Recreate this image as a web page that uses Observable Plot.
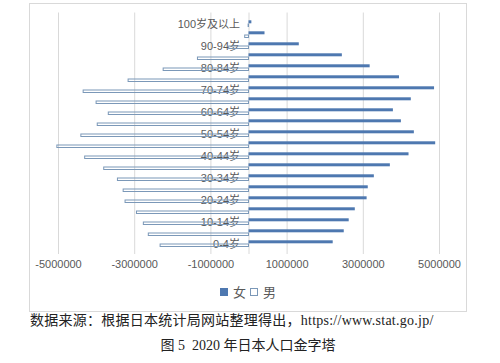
<!DOCTYPE html>
<html><head><meta charset="utf-8">
<script src="https://cdn.jsdelivr.net/npm/d3@7"></script>
<script src="https://cdn.jsdelivr.net/npm/@observablehq/plot@0.6"></script>
<style>
body{margin:0;background:#fff;width:500px;height:363px;overflow:hidden;font-family:"Liberation Sans",Arial,"Noto Sans CJK SC",sans-serif}
#wrap{position:relative;width:500px;height:363px}
#box{position:absolute;left:29px;top:3px;width:438px;height:309px;border:1px solid #d9d9d9;box-sizing:border-box}
#chart{position:absolute;left:0;top:0}
#legend{position:absolute;left:0;width:496px;top:284px;text-align:center;font-size:13px;color:#595959;font-family:"Noto Sans CJK SC",sans-serif;line-height:16px}
#legend .sw{display:inline-block;width:8px;height:8px;vertical-align:middle;margin:0 5px 2px 0;box-sizing:border-box}
#src{position:absolute;left:30px;top:311px;font-size:14px;color:#222;font-family:"Liberation Serif","Noto Sans CJK SC",serif;white-space:nowrap;line-height:20px;letter-spacing:0.25px}
#title{position:absolute;left:0;width:496px;top:336px;text-align:center;font-size:14px;color:#222;font-family:"Liberation Serif","Noto Sans CJK SC",serif;white-space:nowrap;line-height:20px}
</style>
</head><body>
<div id="wrap">
<div id="box"></div>
<div id="chart"></div>
<div id="legend"><span class="sw" style="background:#4e78b0"></span>女<span class="sw" style="border:1px solid #7b98b8;background:#fff;margin-left:4px"></span>男</div>
<div id="src">数据来源：根据日本统计局网站整理得出，https://www.stat.go.jp/</div>
<div id="title">图 5&nbsp; 2020 年日本人口金字塔</div>
</div>
<script>
const ages = ["0-4岁","5-9岁","10-14岁","15-19岁","20-24岁","25-29岁","30-34岁","35-39岁","40-44岁","45-49岁","50-54岁","55-59岁","60-64岁","65-69岁","70-74岁","75-79岁","80-84岁","85-89岁","90-94岁","95-99岁","100岁及以上"];
const male = [2320000,2630000,2760000,2940000,3240000,3290000,3440000,3800000,4300000,5030000,4400000,3970000,3680000,4000000,4340000,3160000,2240000,1340000,520000,100000,10000];
const female = [2210000,2500000,2630000,2790000,3100000,3130000,3290000,3710000,4200000,4900000,4340000,4000000,3790000,4260000,4870000,3950000,3180000,2450000,1320000,420000,75000];
const xTicks = [-5000000,-3000000,-1000000,1000000,3000000,5000000];
const shownLabels = ["0-4岁","10-14岁","20-24岁","30-34岁","40-44岁","50-54岁","60-64岁","70-74岁","80-84岁","90-94岁","100岁及以上"];

const rows = ages.map((a,i)=>({age:a, male:male[i], female:female[i]}));
const order = ages.slice().reverse();

const chart = Plot.plot({
  width:500, height:280,
  marginLeft:58, marginRight:61, marginTop:12.5, marginBottom:26,
  style:{background:"transparent", fontFamily:"'Liberation Sans',Arial,'Noto Sans CJK SC',sans-serif", fontSize:"11px", color:"#595959"},
  x:{domain:[-5000000,5000000], ticks:xTicks, tickFormat:d=>String(d), tickSize:0, tickPadding:6, label:null},
  y:{domain:order, padding:0, axis:null},
  marks:[
    Plot.gridX(xTicks,{stroke:"#d9d9d9", strokeOpacity:1}),
    Plot.ruleX([0],{stroke:"#d9d9d9", strokeOpacity:1}),
    Plot.text(shownLabels,{x:0, y:d=>d, text:d=>d, textAnchor:"end", dx:-9, fill:"#595959", fontSize:11, fontFamily:"'Liberation Sans','Noto Sans CJK SC',sans-serif"}),
    Plot.barX(rows,{x1:0, x2:d=>-d.male, y:"age", fill:"none", stroke:"#7b98b8", strokeWidth:1, insetTop:6, insetBottom:2.5}),
    Plot.barX(rows,{x1:0, x2:"female", y:"age", fill:"#4e78b0", insetTop:2.3, insetBottom:5.7})
  ]
});
document.getElementById("chart").appendChild(chart);
</script>
</body></html>
